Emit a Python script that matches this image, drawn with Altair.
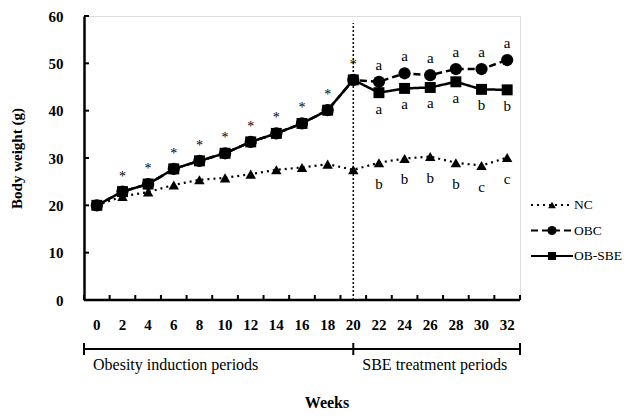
import altair as alt
import pandas as pd

weeks = [0, 2, 4, 6, 8, 10, 12, 14, 16, 18, 20, 22, 24, 26, 28, 30, 32]
nc = [20.0, 21.9, 22.8, 24.3, 25.4, 25.8, 26.6, 27.5, 28.0, 28.7, 27.5, 29.0, 29.9, 30.3, 29.0, 28.4, 30.1]
obc = [20.0, 22.9, 24.5, 27.7, 29.4, 31.0, 33.4, 35.2, 37.3, 40.1, 46.5, 46.1, 47.9, 47.5, 48.8, 48.8, 50.7]
ob_sbe = [20.0, 22.9, 24.5, 27.7, 29.4, 31.0, 33.4, 35.2, 37.3, 40.1, 46.5, 43.8, 44.7, 44.9, 46.1, 44.5, 44.4]

star_weeks = [2, 4, 6, 8, 10, 12, 14, 16, 18, 20]
letter_weeks = [22, 24, 26, 28, 30, 32]
obc_letters = ["a", "a", "a", "a", "a", "a"]
sbe_letters = ["a", "a", "a", "a", "b", "b"]
nc_letters = ["b", "b", "b", "b", "c", "c"]

series_names = ["NC", "OBC", "OB-SBE"]
period_names = ["Obesity induction periods", "SBE treatment periods"]
period_starts = [-1, 20]
period_edges = [-1, 20, 33]
y_ticks = [0, 10, 20, 30, 40, 50, 60]

SERIF = "Liberation Serif"
W, H = 436, 284

xs = alt.Scale(domain=[-1, 33], nice=False, zero=False)
ys = alt.Scale(domain=[0, 60], nice=False)

df = pd.DataFrame({"week": weeks, "NC": nc, "OBC": obc, "OB-SBE": ob_sbe})

styles = {
    "NC": dict(dash=[2, 4], width=2.2, shape="triangle-up", size=110),
    "OBC": dict(dash=[7, 4], width=2.5, shape="circle", size=150),
    "OB-SBE": dict(dash=[1, 0], width=2.5, shape="square", size=120),
}

layers = []

# vertical dotted separator at week 20
vdf = pd.DataFrame({"x": [20], "y": [0], "y2": [58.5]})
layers.append(
    alt.Chart(vdf).mark_rule(color="black", strokeDash=[2, 2], strokeWidth=1.5).encode(
        x=alt.X("x:Q", scale=xs, axis=None),
        y=alt.Y("y:Q", scale=ys),
        y2="y2:Q",
    )
)

for name in series_names:
    st = styles[name]
    base = alt.Chart(df).encode(
        x=alt.X("week:Q", scale=xs, axis=None),
        y=alt.Y(f"{name}:Q", scale=ys),
    )
    layers.append(base.mark_line(color="black", strokeWidth=st["width"], strokeDash=st["dash"]))
    layers.append(base.mark_point(shape=st["shape"], size=st["size"], filled=True, color="black", opacity=1))

# asterisks
star_df = pd.DataFrame({"week": star_weeks})
star_df["v"] = [obc[weeks.index(w)] for w in star_weeks]
layers.append(
    alt.Chart(star_df).mark_text(text="*", font=SERIF, fontSize=14, dy=-15, color="black").encode(
        x=alt.X("week:Q", scale=xs), y=alt.Y("v:Q", scale=ys)
    )
)

# significance letters
for vals, letters, dy in [(obc, obc_letters, -17), (ob_sbe, sbe_letters, 16), (nc, nc_letters, 21)]:
    ldf = pd.DataFrame({"week": letter_weeks, "t": letters})
    ldf["v"] = [vals[weeks.index(w)] for w in letter_weeks]
    layers.append(
        alt.Chart(ldf).mark_text(font=SERIF, fontSize=15, dy=dy, color="black").encode(
            x=alt.X("week:Q", scale=xs), y=alt.Y("v:Q", scale=ys), text="t:N"
        )
    )

# y axis (domain + labels), inward ticks drawn separately
yax = pd.DataFrame({"v": y_ticks})
layers.append(
    alt.Chart(yax).mark_rule(color="black", strokeWidth=2).encode(
        y=alt.Y("v:Q", scale=ys,
                axis=alt.Axis(values=y_ticks, ticks=False, domain=True, domainColor="black", domainWidth=2.5,
                              labelFont=SERIF, labelFontWeight="bold", labelFontSize=15, labelColor="black",
                              labelPadding=21, grid=False, title="Body weight (g)", titleFont=SERIF,
                              titleFontSize=15, titleFontWeight="bold", titleColor="black", titlePadding=24)),
        x=alt.value(0), x2=alt.value(5),
    )
)

# x axis line and inward ticks at band edges
edges = list(range(-1, 34, 2))
xline = pd.DataFrame({"x": [-1], "x2": [33], "y": [0]})
layers.append(
    alt.Chart(xline).mark_rule(color="black", strokeWidth=2.5).encode(
        x=alt.X("x:Q", scale=xs), x2="x2:Q", y=alt.Y("y:Q", scale=ys)
    )
)
tdf = pd.DataFrame({"x": edges})
layers.append(
    alt.Chart(tdf).mark_rule(color="black", strokeWidth=2).encode(
        x=alt.X("x:Q", scale=xs), y=alt.value(H), y2=alt.value(H - 5)
    )
)

# x tick labels
layers.append(
    alt.Chart(df).mark_text(font=SERIF, fontSize=15, fontWeight="bold", color="black").encode(
        x=alt.X("week:Q", scale=xs), y=alt.value(H + 25), text="week:Q"
    )
)

# period bracket
bdf = pd.DataFrame({"x": [period_edges[0]], "x2": [period_edges[-1]]})
layers.append(
    alt.Chart(bdf).mark_rule(color="black", strokeWidth=2).encode(
        x=alt.X("x:Q", scale=xs), x2="x2:Q", y=alt.value(H + 49)
    )
)
edf = pd.DataFrame({"x": period_edges})
layers.append(
    alt.Chart(edf).mark_rule(color="black", strokeWidth=2).encode(
        x=alt.X("x:Q", scale=xs), y=alt.value(H + 43), y2=alt.value(H + 55)
    )
)
pdf = pd.DataFrame({"x": period_starts, "t": period_names})
layers.append(
    alt.Chart(pdf).mark_text(font=SERIF, fontSize=16, align="left", dx=9, color="black").encode(
        x=alt.X("x:Q", scale=xs), y=alt.value(H + 65), text="t:N"
    )
)

# x title
layers.append(
    alt.Chart(pd.DataFrame({"t": ["Weeks"]})).mark_text(font=SERIF, fontSize=16, fontWeight="bold", color="black").encode(
        x=alt.value(243), y=alt.value(H + 103), text="t:N"
    )
)

# legend
for i, name in enumerate(series_names):
    st = styles[name]
    ly = 189 + i * 25.5
    ldf = pd.DataFrame({"t": [name]})
    layers.append(
        alt.Chart(ldf).mark_rule(color="black", strokeWidth=st["width"] - 0.3, strokeDash=st["dash"]).encode(
            x=alt.value(447), x2=alt.value(489), y=alt.value(ly)
        )
    )
    layers.append(
        alt.Chart(ldf).mark_point(shape=st["shape"], size=st["size"] * 0.55, filled=True, color="black", opacity=1).encode(
            x=alt.value(468), y=alt.value(ly)
        )
    )
    layers.append(
        alt.Chart(ldf).mark_text(font=SERIF, fontSize=13.5, align="left", dx=0, color="black").encode(
            x=alt.value(490), y=alt.value(ly), text="t:N"
        )
    )

chart = alt.layer(*layers).properties(
    width=W, height=H,
    autosize=alt.AutoSizeParams(type="none"),
    padding={"left": 76, "top": 8, "right": 102, "bottom": 112},
).configure_view(stroke=None).configure(background="white")

chart.save("out.html", embed_options={"renderer": "svg", "actions": False})
